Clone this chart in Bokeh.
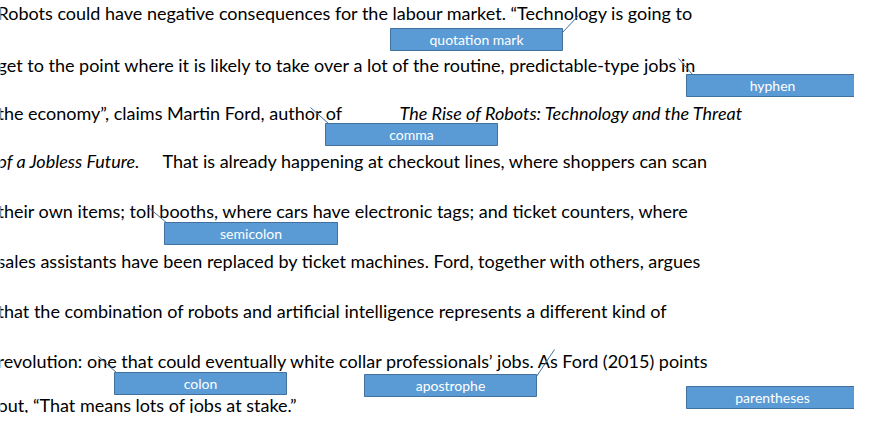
from bokeh.core.properties import value
from bokeh.embed import file_html
from bokeh.models import ColumnDataSource, Range1d
from bokeh.plotting import figure
from bokeh.resources import INLINE

# paragraph segments: text, left x, line centre y, style
seg_text = [
    "Robots could have negative consequences for the labour market. \u201cTechnology is going to",
    "get to the point where it is likely to take over a lot of the routine, predictable-type jobs in",
    "the economy\u201d, claims Martin Ford, author of ",
    "The Rise of Robots: Technology and the Threat",
    "of a Jobless Future.",
    " That is already happening at checkout lines, where shoppers can scan",
    "their own items; toll booths, where cars have electronic tags; and ticket counters, where",
    "sales assistants have been replaced by ticket machines. Ford, together with others, argues",
    "that the combination of robots and artificial intelligence represents a different kind of",
    "revolution: one that could eventually white collar professionals\u2019 jobs. As Ford (2015) points",
    "out, \u201cThat means lots of jobs at stake.\u201d",
]
seg_x = [5, 5, 5, 407, 5, 170, 5, 5, 5, 5, 5]
seg_y = [20, 72, 120, 120, 168, 168, 218, 268, 318, 368, 412]
seg_style = ["normal", "normal", "normal", "italic", "italic", "normal",
             "normal", "normal", "normal", "normal", "normal"]

# callout labels
labels = ["quotation mark", "hyphen", "comma", "semicolon", "colon", "apostrophe", "parentheses"]
box_left = [398, 694, 333, 172, 122, 372, 694]
box_right = [570, 866, 505, 345, 294, 544, 866]
box_top = [36, 82, 131, 230, 380, 382, 394]
box_bottom = [58, 104, 153, 252, 402, 404, 416]

# leader lines
lead_x0 = [570, 700, 336, 175, 125, 544]
lead_y0 = [40, 82, 131, 231, 381, 384]
lead_x1 = [586, 686, 318, 156, 106, 562]
lead_y1 = [23, 66, 115, 215, 364, 357]

p = figure(width=854, height=413, output_backend="svg", toolbar_location=None,
           x_range=Range1d(8, 862), y_range=Range1d(421, 8), min_border=0)
p.axis.visible = False
p.grid.visible = False
p.outline_line_color = None

text_src = ColumnDataSource(dict(x=seg_x, y=seg_y, text=seg_text, style=seg_style))
p.text(x="x", y="y", text="text", text_font=value("Lato"),
       text_font_size="18px", text_baseline="middle", text_color="black",
       text_font_style="style", source=text_src)

p.segment(x0=lead_x0, y0=lead_y0, x1=lead_x1, y1=lead_y1, line_color="#41719c", line_width=1)

p.quad(left=box_left, right=box_right, top=box_top, bottom=box_bottom,
       fill_color="#5b9bd5", line_color="#41719c", line_width=1)
cx = [(a + b) / 2 for a, b in zip(box_left, box_right)]
cy = [(a + b) / 2 for a, b in zip(box_top, box_bottom)]
p.text(x=cx, y=cy, text=labels, text_font=value("Lato"), text_font_size="14px",
       text_align="center", text_baseline="middle", text_color="white")

open("out.html", "w").write(file_html(p, INLINE))
